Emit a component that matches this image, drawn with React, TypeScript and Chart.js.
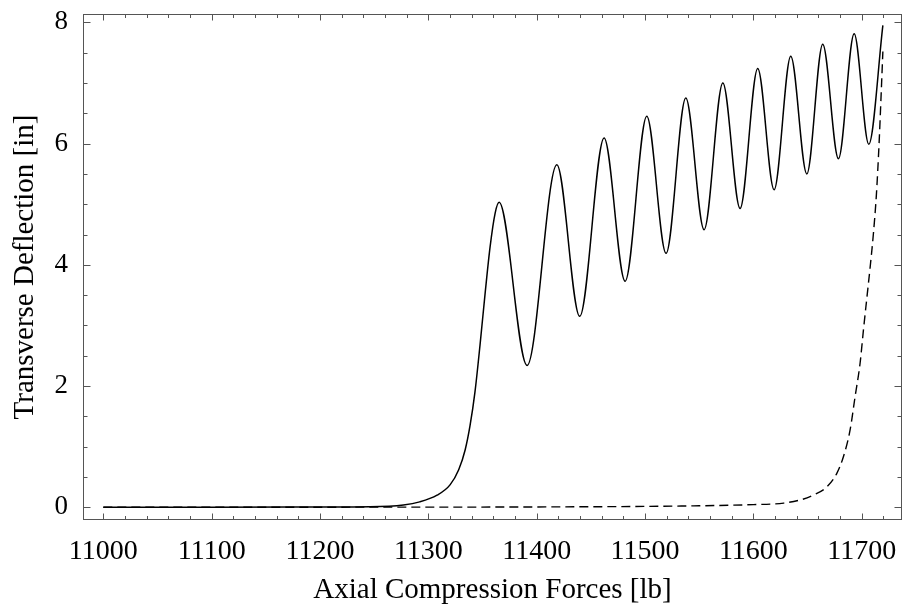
import React, { useEffect, useRef } from "react";
import { Chart, registerables } from "chart.js";

Chart.register(...registerables);

// Solid curve: transverse deflection vs axial compression force
const solidForce = [
  11000, 11100, 11200, 11246, 11277, 11292, 11308, 11320, 11328, 11334, 11338.5,
  11343, 11347.7, 11352.5, 11357, 11361.6, 11365.3, 11391.1, 11418.6, 11439.7,
  11462.2, 11481.6, 11501.6, 11519.4, 11537.6, 11554.5, 11571.8, 11587.7, 11604,
  11619.1, 11634.5, 11649.3, 11664, 11678.5, 11693, 11706.5, 11719.5,
];
const solidDeflection = [
  0, 0.001, 0.005, 0.01, 0.04, 0.09, 0.2, 0.37, 0.62, 0.95, 1.35,
  1.9, 2.68, 3.55, 4.3, 4.85, 5.03, 2.34, 5.65, 3.15,
  6.09, 3.73, 6.45, 4.19, 6.75, 4.58, 7.0, 4.93, 7.24,
  5.24, 7.44, 5.5, 7.64, 5.75, 7.81, 5.99, 7.95,
];

// Dashed curve
const dashedForce = [
  11000, 11200, 11400, 11500, 11550, 11600, 11628, 11645, 11655, 11668, 11677,
  11683, 11689.3, 11693.9, 11698.5, 11701.6, 11704.7, 11707.7, 11710.7, 11713.5,
  11716, 11718, 11719.5,
];
const dashedDeflection = [
  0, 0.002, 0.006, 0.015, 0.025, 0.045, 0.07, 0.13, 0.2, 0.34, 0.56,
  0.83, 1.28, 1.83, 2.38, 2.93, 3.45, 3.95, 4.5, 5.15,
  6.0, 6.85, 7.52,
];

const xTitle = "Axial Compression Forces [lb]";
const yTitle = "Transverse Deflection [in]";

const FONT = "'Liberation Serif', 'Times New Roman', serif";

export default function App() {
  const ref = useRef<HTMLCanvasElement>(null);

  useEffect(() => {
    document.body.style.margin = "0";
    const canvas = ref.current!;

    const framePlugin = {
      id: "mmaFrame",
      afterDatasetsDraw(chart: any) {
        const { ctx, chartArea: a, scales } = chart;
        const xs = scales.x;
        const ys = scales.y;
        ctx.save();
        ctx.strokeStyle = "#555";
        ctx.lineWidth = 1;
        ctx.beginPath();
        // x ticks (bottom and top), major every 100, minor every 20
        for (let v = 10900; v <= 11800; v += 20) {
          const px = Math.round(xs.getPixelForValue(v)) + 0.5;
          if (px <= a.left + 1 || px >= a.right - 1) continue;
          const len = v % 100 === 0 ? 6 : 3.5;
          ctx.moveTo(px, a.bottom);
          ctx.lineTo(px, a.bottom - len);
          ctx.moveTo(px, a.top);
          ctx.lineTo(px, a.top + len);
        }
        // y ticks (left and right), major every 2, minor every 0.5
        for (let i = -2; i <= 18; i++) {
          const v = i * 0.5;
          const py = Math.round(ys.getPixelForValue(v)) + 0.5;
          if (py <= a.top + 1 || py >= a.bottom - 1) continue;
          const len = i % 4 === 0 ? 7 : 4;
          ctx.moveTo(a.left, py);
          ctx.lineTo(a.left + len, py);
          ctx.moveTo(a.right, py);
          ctx.lineTo(a.right - len, py);
        }
        ctx.stroke();
        ctx.strokeRect(a.left, a.top, a.right - a.left, a.bottom - a.top);
        ctx.restore();
      },
    };

    const zeroPad = (s: any) => {
      s.paddingTop = 0;
      s.paddingBottom = 0;
      s.paddingLeft = 0;
      s.paddingRight = 0;
    };

    const chart = new Chart(canvas, {
      type: "line",
      data: {
        datasets: [
          {
            data: solidForce.map((x, i) => ({ x, y: solidDeflection[i] })),
            borderColor: "#000",
            borderWidth: 1.5,
            pointRadius: 0,
            cubicInterpolationMode: "monotone",
            fill: false,
          },
          {
            data: dashedForce.map((x, i) => ({ x, y: dashedDeflection[i] })),
            borderColor: "#000",
            borderWidth: 1.4,
            borderDash: [9, 5],
            pointRadius: 0,
            cubicInterpolationMode: "monotone",
            fill: false,
          },
        ],
      },
      options: {
        responsive: false,
        animation: false,
        devicePixelRatio: 1,
        layout: { padding: { top: 14.5, right: 4.5, left: 0, bottom: 0 } },
        plugins: {
          legend: { display: false },
          tooltip: { enabled: false },
        },
        scales: {
          x: {
            type: "linear",
            min: 10981.7,
            max: 11736.7,
            grid: { display: false, drawTicks: false },
            border: { display: false },
            ticks: {
              stepSize: 100,
              includeBounds: false,
              autoSkip: false,
              maxRotation: 0,
              padding: 15,
              color: "#000",
              font: { family: FONT, size: 28 },
              callback: (v: any) => String(v),
            },
            title: {
              display: true,
              text: xTitle,
              color: "#000",
              font: { family: FONT, size: 29 },
              padding: { top: 0, bottom: 1 },
            },
            afterFit: (s: any) => {
              s.height = 89.5;
              zeroPad(s);
            },
          },
          y: {
            type: "linear",
            min: -0.201,
            max: 8.129,
            grid: { display: false, drawTicks: false },
            border: { display: false },
            ticks: {
              stepSize: 2,
              includeBounds: false,
              padding: 15.5,
              color: "#000",
              font: { family: FONT, size: 27 },
              callback: (v: any) => String(v),
            },
            title: {
              display: true,
              text: yTitle,
              color: "#000",
              font: { family: FONT, size: 29 },
              padding: { top: 8, bottom: 0 },
            },
            afterFit: (s: any) => {
              s.width = 83.5;
              zeroPad(s);
            },
          },
        },
      },
      plugins: [framePlugin],
    });

    return () => chart.destroy();
  }, []);

  return (
    <canvas
      ref={ref}
      width={906}
      height={609}
      style={{ position: "fixed", left: 0, top: 0, width: 906, height: 609 }}
    />
  );
}
